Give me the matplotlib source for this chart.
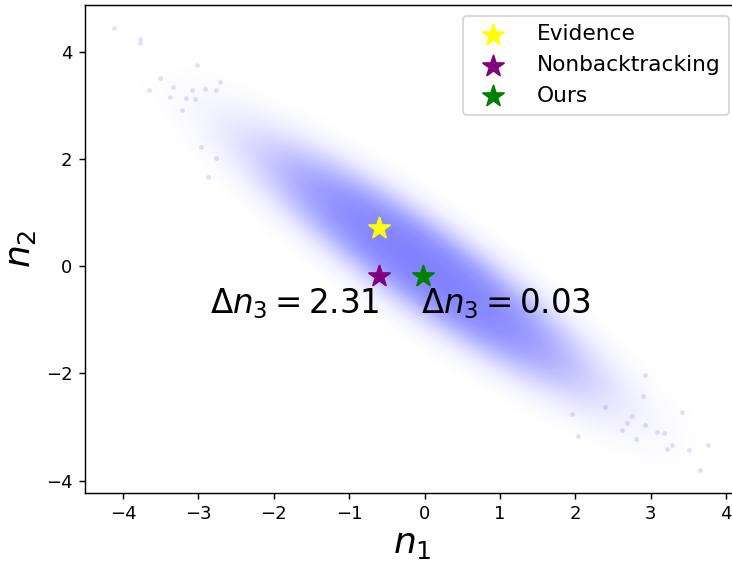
"""
Posterior-style cloud over (n1, n2) with the three point estimates
marked as stars and the n3 error of two of them written next to them.

Generates: out.png
"""

import numpy as np
import matplotlib.pyplot as plt
from matplotlib.transforms import Affine2D


# density of the cloud, read off the picture as two profiles:
# along the long diagonal (u) and across it (v), both relative to the core
U_POS = [-6.0, -5.5, -5.0, -4.5, -4.0, -3.5, -3.0, -2.5, -2.0, -1.5, -1.0, -0.5,
         0.0, 0.5, 1.0, 1.5, 2.0, 2.5, 3.0, 3.5, 4.0, 4.5, 5.0, 5.5, 6.0]
U_DENS = [0.0004, 0.0012, 0.004, 0.011, 0.029, 0.066, 0.135, 0.25, 0.41, 0.61,
          0.80, 0.95, 1.0, 0.95, 0.80, 0.61, 0.41, 0.25, 0.135, 0.066, 0.029,
          0.011, 0.004, 0.0012, 0.0004]
V_POS = [-1.25, -1.125, -1.0, -0.875, -0.75, -0.625, -0.5, -0.375, -0.25, -0.125,
         0.0, 0.125, 0.25, 0.375, 0.5, 0.625, 0.75, 0.875, 1.0, 1.125, 1.25]
V_DENS = [0.0012, 0.004, 0.013, 0.037, 0.088, 0.18, 0.34, 0.54, 0.76, 0.935,
          1.0, 0.935, 0.76, 0.54, 0.34, 0.18, 0.088, 0.037, 0.013, 0.004, 0.0012]

# lone samples out in the tails of the cloud
TAIL_N1 = [-4.12, -3.78, -3.78, -3.02, -3.51, -3.66, -3.34, -3.38, -3.22, -2.71,
           -2.87, -2.96, -2.76, -3.09, -3.05, -3.17, -2.91, -2.76,
           3.66, 3.76, 3.51, 3.42, 3.22, 3.29, 3.18, 3.08, 2.93, 2.90, 2.81,
           2.04, 1.96, 2.62, 2.69, 2.75, 2.92, 2.39]
TAIL_N2 = [4.45, 4.24, 4.16, 3.76, 3.52, 3.29, 3.35, 3.15, 2.92, 3.44,
           1.67, 2.22, 2.02, 3.29, 3.12, 3.14, 3.31, 3.29,
           -3.81, -3.33, -3.42, -2.72, -3.41, -3.33, -3.11, -3.10, -2.03, -2.42,
           -3.22, -3.16, -2.76, -3.05, -2.93, -2.80, -2.96, -2.62]

# point estimates
METHODS = ["Evidence", "Nonbacktracking", "Ours"]
EST_N1 = [-0.60, -0.60, -0.02]
EST_N2 = [0.71, -0.19, -0.19]
COLORS = ["yellow", "purple", "green"]

DELTA_LABELS = [r"$\Delta n_3 = 2.31$", r"$\Delta n_3 = 0.03$"]


def main() -> None:
    fig = plt.figure(figsize=(732 / 130, 565 / 130), dpi=130)
    # right spine sits just past the image edge, as in the cropped original
    ax = fig.add_axes([0.1161, 0.1280, 0.8948, 0.8632])

    # smooth blue haze standing in for the dense sample cloud
    dens = np.outer(V_DENS, U_DENS)
    rgba = np.zeros(dens.shape + (4,))
    rgba[..., 0] = 0.1
    rgba[..., 1] = 0.1
    rgba[..., 2] = 1.0
    rgba[..., 3] = 0.56 * (1 - np.exp(-3.5 * dens))
    du = (U_POS[1] - U_POS[0]) / 2
    dv = (V_POS[1] - V_POS[0]) / 2
    ax.imshow(rgba, origin="lower", interpolation="bilinear", aspect="auto",
              extent=[U_POS[0] - du, U_POS[-1] + du, V_POS[0] - dv, V_POS[-1] + dv],
              transform=Affine2D().rotate_deg(-46) + ax.transData, zorder=1)

    ax.scatter(TAIL_N1, TAIL_N2, s=7, color="blue", alpha=0.12,
               linewidths=0, zorder=1)

    for x, y, c, name in zip(EST_N1, EST_N2, COLORS, METHODS):
        ax.scatter(x, y, marker="*", s=150, color=c, label=name, zorder=3)

    ax.text(EST_N1[1], -0.87, DELTA_LABELS[0], fontsize=18,
            ha="right", va="baseline", zorder=4)
    ax.text(EST_N1[2] - 0.03, -0.87, DELTA_LABELS[1], fontsize=18,
            ha="left", va="baseline", zorder=4)

    ax.set_xlim(-4.505, 4.186)
    ax.set_ylim(-4.224, 4.875)
    ax.set_xticks([-4, -3, -2, -1, 0, 1, 2, 3, 4])
    ax.set_yticks([-4, -2, 0, 2, 4])
    ax.set_xlabel(r"$n_1$", fontsize=20, labelpad=2)
    ax.set_ylabel(r"$n_2$", fontsize=20, labelpad=4)
    ax.legend(loc="upper right", fontsize=12, handletextpad=1.0)

    fig.savefig("out.png", dpi=130)


if __name__ == "__main__":
    main()
